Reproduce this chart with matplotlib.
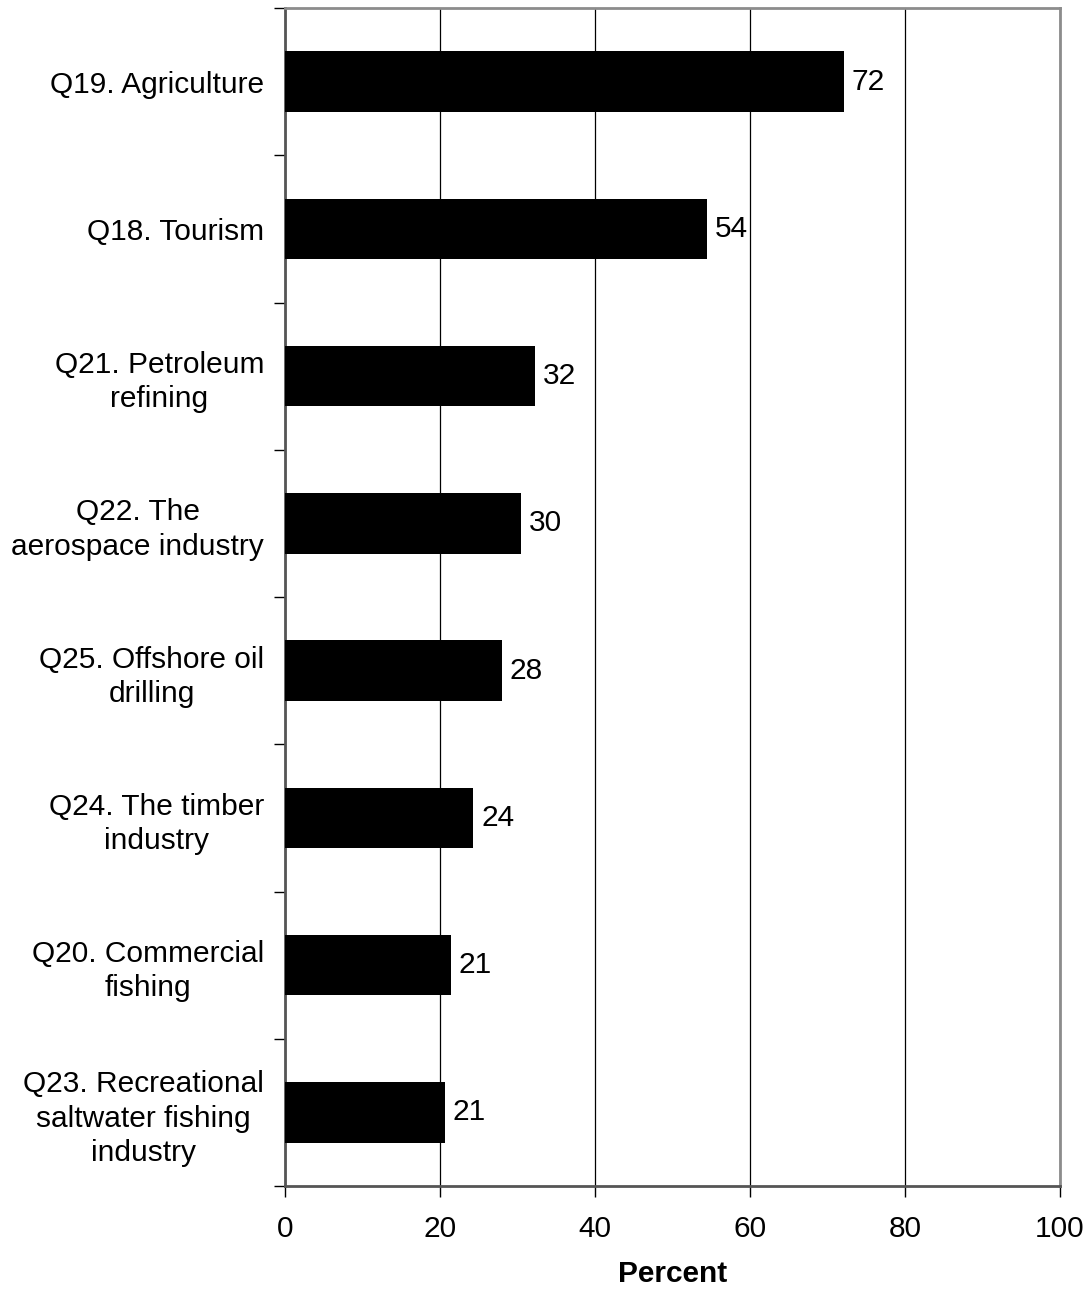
import matplotlib.pyplot as plt
import numpy as np

# survey items, top to bottom
labels = ["Q19. Agriculture", "Q18. Tourism", "Q21. Petroleum\nrefining",
          "Q22. The\naerospace industry", "Q25. Offshore oil\ndrilling",
          "Q24. The timber\nindustry", "Q20. Commercial\nfishing",
          "Q23. Recreational\nsaltwater fishing\nindustry"]
percent = [72.1, 54.4, 32.3, 30.4, 28.0, 24.3, 21.4, 20.6]
shown = [72, 54, 32, 30, 28, 24, 21, 21]
xticks = [0, 20, 40, 60, 80, 100]

plt.rcParams['font.family'] = ['Liberation Sans', 'DejaVu Sans']
fs = 21.5

fig = plt.figure(figsize=(10.9, 12.92), dpi=100)
ax = fig.add_axes([0.2615, 0.082, 0.711, 0.9118])

pos = np.arange(len(labels))
ax.barh(pos, percent, height=0.41, color='black', zorder=3)
for p, v, s in zip(pos, percent, shown):
    ax.text(v + 1.0, p, str(s), va='center', ha='left', fontsize=fs)

ax.set_xlim(0, 100)
ax.set_ylim(len(labels) - 0.5, -0.5)
ax.set_xticks(xticks)
ax.set_xticklabels([str(t) for t in xticks], fontsize=fs)
ax.set_yticks(pos)
ax.set_yticklabels(labels, fontsize=fs, multialignment='center', linespacing=1.28)
ax.set_yticks(np.arange(len(labels) + 1) - 0.5, minor=True)
ax.tick_params(axis='y', which='major', length=0, pad=15)
ax.tick_params(axis='y', which='minor', length=8, width=1, color='black', direction='out')
ax.tick_params(axis='x', length=8, width=1, color='black', pad=13)

ax.grid(axis='x', color='black', linewidth=0.9, zorder=1)
ax.set_axisbelow(True)

ax.spines['top'].set_color('#8c8c8c')
ax.spines['right'].set_color('#8c8c8c')
ax.spines['left'].set_color('#555555')
ax.spines['bottom'].set_color('#555555')
for s in ax.spines.values():
    s.set_linewidth(2)

ax.set_xlabel('Percent', fontsize=fs, fontweight='bold', labelpad=12)

fig.savefig('out.png', dpi=100)
